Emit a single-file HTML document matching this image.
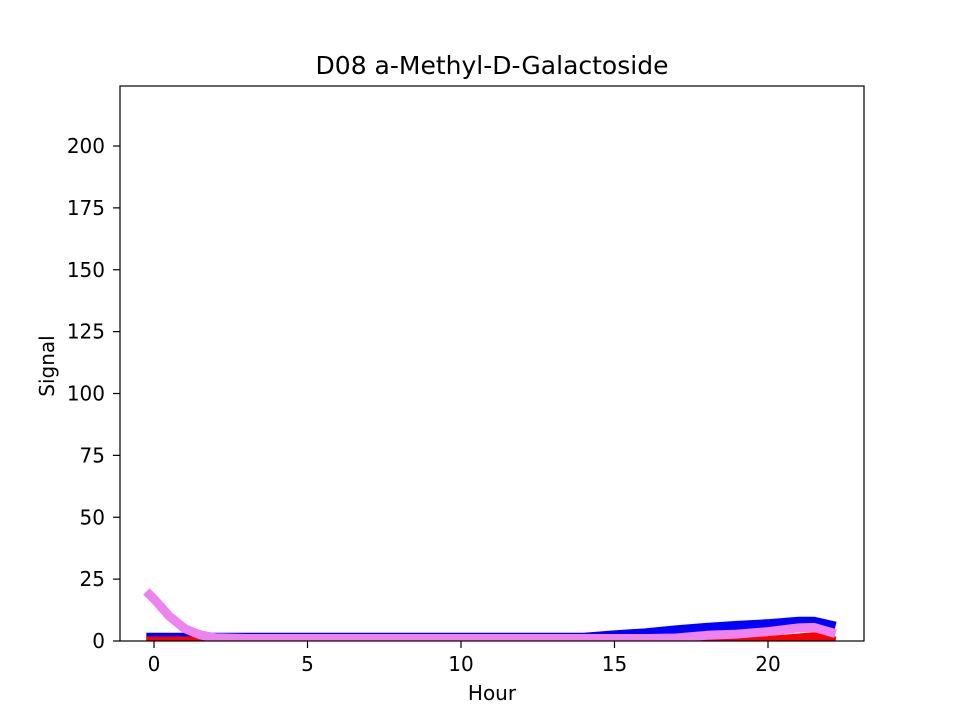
<!DOCTYPE html>
<html><head><meta charset="utf-8"><style>body{margin:0;background:#fff}svg{font-family:"DejaVu Sans","Liberation Sans",sans-serif}</style></head>
<body>
<svg width="960" height="720" viewBox="0 0 960 720">
<defs><clipPath id="clip"><rect x="120" y="86" width="744" height="555"/></clipPath></defs>
<rect width="960" height="720" fill="#fff"/>
<text x="492" y="74" text-anchor="middle" font-size="25">D08 a-Methyl-D-Galactoside</text>
<g id="series" clip-path="url(#clip)"></g>
<rect x="120" y="86" width="744" height="555" fill="none" stroke="#000" stroke-width="1.2"/>
<g id="xt"></g><g id="yt"></g>
<text x="492" y="700" text-anchor="middle" font-size="20">Hour</text>
<text transform="translate(54,366) rotate(-90)" text-anchor="middle" font-size="20">Signal</text>
</svg>
<script>
const hours=[-0.25,0,0.5,1,1.5,2,3,4,6,8,10,12,14,15,16,17,18,19,20,21,21.5,22.2];
const blueVals=[1.5,1.5,1.5,1.5,1.5,1.5,1.5,1.5,1.5,1.5,1.5,1.5,1.5,2.5,3.3,4.5,5.5,6.3,7,8,8,6];
const redVals=[0,0,0,0,0,0,0,0,0,0,0,0,0,0,0,0,0,0,0.2,1.2,1.7,0];
const pinkVals=[20,17,10,5,2.5,1.3,1,1,1,1,1,1,1,1,1,1.2,2.3,2.8,3.8,5.3,5.5,3];
const xTicks=[0,5,10,15,20];
const yTicks=[0,25,50,75,100,125,150,175,200];
const NS="http://www.w3.org/2000/svg";
const xs=h=>154+(h-0)*(768-154)/20;
const ys=v=>641-v*(641-146)/200;
const g=document.getElementById('series');
function line(vals,color,name){
  const p=document.createElementNS(NS,'polyline');
  p.setAttribute('points',hours.map((h,i)=>xs(h)+','+ys(vals[i])).join(' '));
  p.setAttribute('fill','none');p.setAttribute('stroke',color);p.setAttribute('stroke-width','9');
  p.setAttribute('stroke-linejoin','round');
  
  
  g.appendChild(p);
}
line(blueVals,'#0000ff','blue-series');
line(redVals,'#ff0000','red-series');
line(pinkVals,'#ee82ee','pink-series');
const xt=document.getElementById('xt');
xTicks.forEach(t=>{
  const x=xs(t);
  const l=document.createElementNS(NS,'line');
  l.setAttribute('x1',x);l.setAttribute('x2',x);l.setAttribute('y1',641);l.setAttribute('y2',648);l.setAttribute('stroke','#000');l.setAttribute('stroke-width','1.2');
  
  
  xt.appendChild(l);
  const tx=document.createElementNS(NS,'text');
  tx.setAttribute('x',x);tx.setAttribute('y',671);tx.setAttribute('text-anchor','middle');tx.setAttribute('font-size','20');
  tx.textContent=t;
  
  
  xt.appendChild(tx);
});
const yt=document.getElementById('yt');
yTicks.forEach(t=>{
  const y=ys(t);
  const l=document.createElementNS(NS,'line');
  l.setAttribute('x1',113);l.setAttribute('x2',120);l.setAttribute('y1',y);l.setAttribute('y2',y);l.setAttribute('stroke','#000');l.setAttribute('stroke-width','1.2');
  
  
  yt.appendChild(l);
  const tx=document.createElementNS(NS,'text');
  tx.setAttribute('x',105);tx.setAttribute('y',y+7);tx.setAttribute('text-anchor','end');tx.setAttribute('font-size','20');
  tx.textContent=t;
  
  
  yt.appendChild(tx);
});
</script>
</body></html>
